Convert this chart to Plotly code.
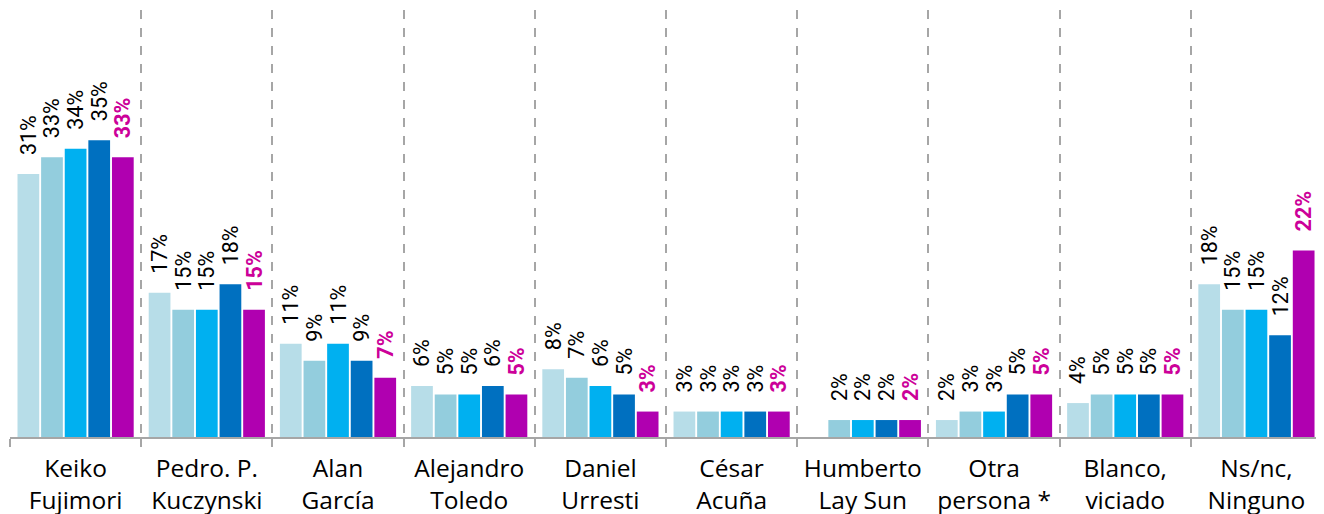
import plotly.graph_objects as go

categories = ["Keiko<br>Fujimori", "Pedro. P.<br>Kuczynski", "Alan<br>García", "Alejandro<br>Toledo",
              "Daniel<br>Urresti", "César<br>Acuña", "Humberto<br>Lay Sun", "Otra<br>persona *",
              "Blanco,<br>viciado", "Ns/nc,<br>Ninguno"]

serie_1 = [31, 17, 11, 6, 8, 3, None, 2, 4, 18]
serie_2 = [33, 15, 9, 5, 7, 3, 2, 3, 5, 15]
serie_3 = [34, 15, 11, 5, 6, 3, 2, 3, 5, 15]
serie_4 = [35, 18, 9, 6, 5, 3, 2, 5, 5, 12]
serie_5 = [33, 15, 7, 5, 3, 3, 2, 5, 5, 22]

series = [serie_1, serie_2, serie_3, serie_4, serie_5]
names = ["Medición 1", "Medición 2", "Medición 3", "Medición 4", "Medición 5"]
colors = ["#B7DDE8", "#93CDDD", "#00B0F0", "#0070C0", "#B000B0"]

LABEL_FONT = "Roboto"
PAD = "\u00a0\u00a0\u00a0"

fig = go.Figure()
for i, (vals, name, col) in enumerate(zip(series, names, colors)):
    last = i == len(series) - 1
    fig.add_trace(go.Bar(
        x=categories, y=vals, name=name,
        marker=dict(color=col, line=dict(width=0)),
        texttemplate=PAD + ("<b>%{y}%</b>" if last else "%{y}%"),
        textposition="outside", textangle=-90,
        textfont=dict(family=LABEL_FONT, size=21.5, color="#CC0099" if last else "#000000"),
        constraintext="none", cliponaxis=False,
    ))

fig.update_layout(
    width=1308, height=514,
    margin=dict(l=2, r=0, t=2, b=85),
    barmode="group", bargap=0.1, bargroupgap=0.08,
    plot_bgcolor="white", paper_bgcolor="white",
    showlegend=False,
    font=dict(family="Open Sans", color="#000000"),
)
fig.update_xaxes(
    type="category", range=[-0.5, 9.454],
    tickson="boundaries", showgrid=True, gridcolor="#A6A6A6", griddash="dash", gridwidth=1.5,
    showline=True, linecolor="#A6A6A6", linewidth=2,
    ticks="outside", ticklen=8, tickcolor="#A6A6A6", tickwidth=1.5,
    tickfont=dict(family="Open Sans", size=24.5, color="#000000"),
    tickangle=0, ticklabelstandoff=9,
)
fig.update_yaxes(range=[0, 50.35], visible=False, showgrid=False, zeroline=False)

fig.write_html("out.html")
